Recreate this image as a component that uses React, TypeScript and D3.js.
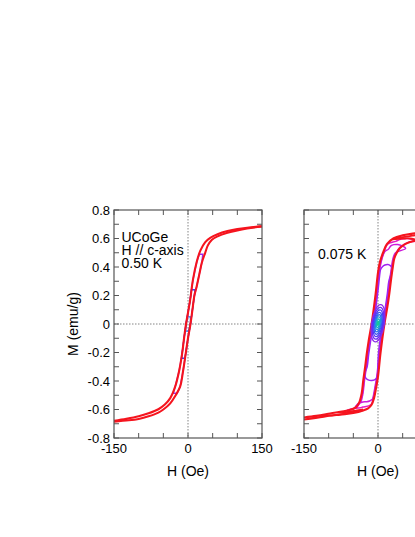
import React from "react";
import * as d3 from "d3";

// ---------- axes ----------
const H_LABEL_TICKS = [-150, 0, 150];
const H_LABELS = ["-150", "0", "150"];
const H_MINOR_TICKS = [-100, -50, 50, 100];
const M_LABEL_TICKS = [-0.8, -0.6, -0.4, -0.2, 0, 0.2, 0.4, 0.6, 0.8];
const M_LABELS = ["-0.8", "-0.6", "-0.4", "-0.2", "0", "0.2", "0.4", "0.6", "0.8"];
const M_MINOR_TICKS = [-0.7, -0.5, -0.3, -0.1, 0.1, 0.3, 0.5, 0.7];

// ---------- left panel: 0.50 K ----------
const L_DESC_H = [150, 120, 100, 80, 60, 45, 35, 25, 18, 10, 4, -4, -8, -12, -18, -26, -36, -47, -60, -80, -100, -125, -150];
const L_DESC_M = [0.685, 0.676, 0.667, 0.652, 0.63, 0.605, 0.575, 0.515, 0.44, 0.31, 0.16, 0.0, -0.1, -0.21, -0.33, -0.44, -0.52, -0.565, -0.598, -0.627, -0.648, -0.666, -0.68];
const L_ASC_H = [-150, -120, -100, -80, -60, -50, -36, -25, -16, -10, -4.6, 0, 5, 9, 13, 17.5, 23, 28, 34.5, 40, 48, 60, 80, 100, 120, 150];
const L_ASC_M = [-0.685, -0.676, -0.666, -0.648, -0.622, -0.6, -0.557, -0.5, -0.44, -0.33, -0.206, -0.1, 0.0, 0.1, 0.2, 0.262, 0.35, 0.43, 0.496, 0.55, 0.59, 0.615, 0.64, 0.657, 0.67, 0.685];

// minor loops of left panel: top flag (right->left), bottom flag (left->right)
const L_LOOP_COLORS = ["#9a2cf5", "#3b3bff", "#2f6df2"];
const L_LOOP_TOP_H = [[30, 23], [14, 7], [5, -1]];
const L_LOOP_TOP_M = [[0.49, 0.49], [0.24, 0.24], [0.05, 0.05]];
const L_LOOP_BOT_H = [[-30, -22], [-13, -6], [-5, 1]];
const L_LOOP_BOT_M = [[-0.486, -0.486], [-0.24, -0.24], [-0.05, -0.05]];

// ---------- right panel: 0.075 K ----------
const R_DESC_H = [150, 110, 75, 50, 31, 18, 11, 4, 0, -5, -13, -19, -23, -26, -30, -33, -38, -45, -60, -97, -125, -150];
const R_DESC_M = [0.68, 0.66, 0.636, 0.622, 0.6, 0.56, 0.507, 0.437, 0.36, 0.206, 0.0, -0.12, -0.215, -0.3, -0.4, -0.486, -0.55, -0.585, -0.605, -0.628, -0.645, -0.656];
const R_ASC_H = [-150, -110, -77, -50, -30, -20, -13, -8, -4, 0, 5, 13, 19, 23, 26, 30, 33, 38, 45, 55, 65, 75, 97, 125, 150];
const R_ASC_M = [-0.67, -0.65, -0.636, -0.625, -0.607, -0.592, -0.567, -0.52, -0.45, -0.37, -0.206, 0.0, 0.12, 0.215, 0.3, 0.4, 0.46, 0.5, 0.535, 0.56, 0.575, 0.585, 0.61, 0.635, 0.655];

// extra red branches (reversal at +-115 and +-77 Oe)
const R_EXTRA_H = [
  [-115, -100, -85, -70, -55, -42, -32],
  [-77, -65, -55, -45, -36, -30],
  [115, 100, 85, 70, 55, 42, 32],
  [77, 65, 55, 45, 36, 30],
];
const R_EXTRA_M = [
  [-0.639, -0.641, -0.637, -0.63, -0.62, -0.612, -0.606],
  [-0.616, -0.618, -0.614, -0.608, -0.603, -0.6],
  [0.629, 0.634, 0.628, 0.62, 0.611, 0.604, 0.6],
  [0.592, 0.6, 0.6, 0.598, 0.596, 0.594],
];

// minor loops: top arch (right->left), bottom bowl (left->right), leg inset (Oe)
const R_LOOP_COLORS = ["#e619c2", "#cc1bd9", "#9f22f2"];
const R_LOOP_INSET = [1.5, 2.5, 4];
const R_ARCH_H = [
  [76, 68, 60, 52, 44, 36],
  [56, 48, 40, 32, 26, 21],
  [29, 25, 20, 14, 9, 5],
];
const R_ARCH_M = [
  [0.583, 0.595, 0.6, 0.598, 0.592, 0.58],
  [0.53, 0.55, 0.558, 0.557, 0.548, 0.525],
  [0.39, 0.41, 0.417, 0.414, 0.402, 0.38],
];
const R_BOWL_H = [
  [-63, -56, -48, -41, -36, -31],
  [-46, -39, -31, -23, -17, -12],
  [-27, -25, -20, -13, -7, -3, -1],
];
const R_BOWL_M = [
  [-0.607, -0.598, -0.592, -0.59, -0.588, -0.583],
  [-0.58, -0.556, -0.548, -0.545, -0.54, -0.53],
  [-0.35, -0.378, -0.392, -0.396, -0.392, -0.38, -0.36],
];

// small concentric loops near the origin
const R_RING_HALF_H = [13, 11, 9.2, 7.5, 5.9, 4.3, 2.8, 1.4];
const R_RING_HALF_M = [0.132, 0.113, 0.095, 0.078, 0.061, 0.045, 0.03, 0.015];
const R_RING_COLORS = ["#8a2be8", "#6d2cf5", "#4f38f7", "#3853f5", "#2a70ee", "#1b93e0", "#12b3c6", "#12c79a"];

// ---------- layout ----------
const W = 415;
const HGT = 537;
const TOP = 210;
const BOTTOM = 438;
const PANEL_W = 148;
const FONT = "'Liberation Sans', Arial, Helvetica, sans-serif";

type Pt = [number, number];
const zip = (hs: number[], ms: number[]): Pt[] => hs.map((h, i) => [h, ms[i]] as Pt);

function loopPoints(arch: Pt[], bowl: Pt[], desc: Pt[], asc: Pt[], inset: number): Pt[] {
  const aTop = arch[arch.length - 1][1];
  const bFirst = bowl[0][1];
  const bLast = bowl[bowl.length - 1][1];
  const aFirst = arch[0][1];
  const leftLeg = desc.filter((p) => p[1] < aTop && p[1] > bFirst).map((p) => [p[0] + inset, p[1]] as Pt);
  const rightLeg = asc.filter((p) => p[1] > bLast && p[1] < aFirst).map((p) => [p[0] - inset, p[1]] as Pt);
  return [...arch, ...leftLeg, ...bowl, ...rightLeg];
}

function Panel(props: {
  x0: number;
  id: string;
  showYLabels: boolean;
  children: (x: d3.ScaleLinear<number, number>, y: d3.ScaleLinear<number, number>) => React.ReactNode;
}) {
  const { x0, id, showYLabels } = props;
  const x = d3.scaleLinear().domain([-150, 150]).range([x0, x0 + PANEL_W]);
  const y = d3.scaleLinear().domain([-0.8, 0.8]).range([BOTTOM, TOP]);
  const tick = 5;
  const frame = "#555";
  const allX = [...H_LABEL_TICKS, ...H_MINOR_TICKS];
  const allY = [...M_LABEL_TICKS, ...M_MINOR_TICKS];
  return (
    <g>
      <defs>
        <clipPath id={id}>
          <rect x={x0} y={TOP} width={PANEL_W} height={BOTTOM - TOP} />
        </clipPath>
      </defs>
      <line x1={x(-150)} x2={x(150)} y1={y(0)} y2={y(0)} stroke="#777" strokeWidth={0.9} strokeDasharray="1.5,1.5" />
      <line x1={x(0)} x2={x(0)} y1={TOP} y2={BOTTOM} stroke="#777" strokeWidth={0.9} strokeDasharray="1.5,1.5" />
      <g clipPath={`url(#${id})`}>{props.children(x, y)}</g>
      <rect x={x0} y={TOP} width={PANEL_W} height={BOTTOM - TOP} fill="none" stroke={frame} strokeWidth={1.2} />
      {allX.map((t) => (
        <g key={"xt" + t}>
          <line x1={x(t)} x2={x(t)} y1={BOTTOM} y2={BOTTOM - tick} stroke={frame} strokeWidth={1} />
          <line x1={x(t)} x2={x(t)} y1={TOP} y2={TOP + tick} stroke={frame} strokeWidth={1} />
        </g>
      ))}
      {allY.map((t) => (
        <g key={"yt" + t}>
          <line x1={x0} x2={x0 + tick} y1={y(t)} y2={y(t)} stroke={frame} strokeWidth={1} />
          <line x1={x0 + PANEL_W} x2={x0 + PANEL_W - tick} y1={y(t)} y2={y(t)} stroke={frame} strokeWidth={1} />
        </g>
      ))}
      {H_LABEL_TICKS.map((t, i) =>
        x(t) + 12 < W ? (
          <text key={"xl" + t} x={x(t)} y={453} textAnchor="middle" fontSize={13} fontFamily={FONT} fill="#000">
            {H_LABELS[i]}
          </text>
        ) : null
      )}
      {showYLabels &&
        M_LABEL_TICKS.map((t, i) => (
          <text key={"yl" + t} x={x0 - 4} y={y(t)} dy="0.35em" textAnchor="end" fontSize={13} fontFamily={FONT} fill="#000">
            {M_LABELS[i]}
          </text>
        ))}
      <text x={x(0)} y={475.5} textAnchor="middle" fontSize={14} fontFamily={FONT} fill="#000">
        H (Oe)
      </text>
    </g>
  );
}

export default function App() {
  const open = (x: d3.ScaleLinear<number, number>, y: d3.ScaleLinear<number, number>) =>
    d3
      .line<Pt>()
      .x((d) => x(d[0]))
      .y((d) => y(d[1]))
      .curve(d3.curveCatmullRom.alpha(0.5));
  const closedLin = (x: d3.ScaleLinear<number, number>, y: d3.ScaleLinear<number, number>) =>
    d3
      .line<Pt>()
      .x((d) => x(d[0]))
      .y((d) => y(d[1]))
      .curve(d3.curveLinearClosed);
  const closedSmooth = (x: d3.ScaleLinear<number, number>, y: d3.ScaleLinear<number, number>) =>
    d3
      .line<Pt>()
      .x((d) => x(d[0]))
      .y((d) => y(d[1]))
      .curve(d3.curveCatmullRomClosed.alpha(0.5));

  const lDesc = zip(L_DESC_H, L_DESC_M);
  const lAsc = zip(L_ASC_H, L_ASC_M);
  const rDesc = zip(R_DESC_H, R_DESC_M);
  const rAsc = zip(R_ASC_H, R_ASC_M);
  const RED = "#f5141e";

  return (
    <svg width={W} height={HGT} style={{ position: "absolute", left: 0, top: 0, background: "#fff" }}>
      <Panel x0={114} id="clipL" showYLabels={true}>
        {(x, y) => {
          const ln = open(x, y);
          const cl = closedLin(x, y);
          return (
            <g fill="none">
              {L_LOOP_COLORS.map((c, i) => (
                <path
                  key={"ll" + i}
                  d={
                    cl(
                      loopPoints(
                        zip(L_LOOP_TOP_H[i], L_LOOP_TOP_M[i]),
                        zip(L_LOOP_BOT_H[i], L_LOOP_BOT_M[i]),
                        lDesc,
                        lAsc,
                        0
                      )
                    ) || ""
                  }
                  stroke={c}
                  strokeWidth={1.4}
                />
              ))}
              <path d={ln(lDesc) || ""} stroke={RED} strokeWidth={2.1} />
              <path d={ln(lAsc) || ""} stroke={RED} strokeWidth={2.1} />
            </g>
          );
        }}
      </Panel>
      <Panel x0={304} id="clipR" showYLabels={false}>
        {(x, y) => {
          const ln = open(x, y);
          const cs = closedSmooth(x, y);
          return (
            <g fill="none">
              {R_LOOP_COLORS.map((c, i) => (
                <path
                  key={"rl" + i}
                  d={
                    cs(
                      loopPoints(zip(R_ARCH_H[i], R_ARCH_M[i]), zip(R_BOWL_H[i], R_BOWL_M[i]), rDesc, rAsc, R_LOOP_INSET[i])
                    ) || ""
                  }
                  stroke={c}
                  strokeWidth={1.5}
                />
              ))}
              {R_EXTRA_H.map((hs, i) => (
                <path key={"rx" + i} d={ln(zip(hs, R_EXTRA_M[i])) || ""} stroke={RED} strokeWidth={1.8} />
              ))}
              <path d={ln(rDesc) || ""} stroke={RED} strokeWidth={2.1} />
              <path d={ln(rAsc) || ""} stroke={RED} strokeWidth={2.1} />
              {R_RING_HALF_H.map((hh, i) => (
                <ellipse
                  key={"ring" + i}
                  cx={x(0)}
                  cy={y(0.005)}
                  rx={x(hh) - x(0)}
                  ry={y(0) - y(R_RING_HALF_M[i])}
                  transform={`rotate(9, ${x(0)}, ${y(0.005)})`}
                  stroke={R_RING_COLORS[i]}
                  strokeWidth={1.3}
                />
              ))}
            </g>
          );
        }}
      </Panel>
      <text x={78} y={324} transform="rotate(-90, 78, 324)" textAnchor="middle" fontSize={14} fontFamily={FONT} fill="#000">
        M (emu/g)
      </text>
      <text x={121.5} y={241.7} fontSize={14} fontFamily={FONT} fill="#000">
        UCoGe
      </text>
      <text x={121.5} y={254.8} fontSize={14} fontFamily={FONT} fill="#000">
        H // c-axis
      </text>
      <text x={121.5} y={268.2} fontSize={14} fontFamily={FONT} fill="#000">
        0.50 K
      </text>
      <text x={318} y={259.3} fontSize={14} fontFamily={FONT} fill="#000">
        0.075 K
      </text>
    </svg>
  );
}
